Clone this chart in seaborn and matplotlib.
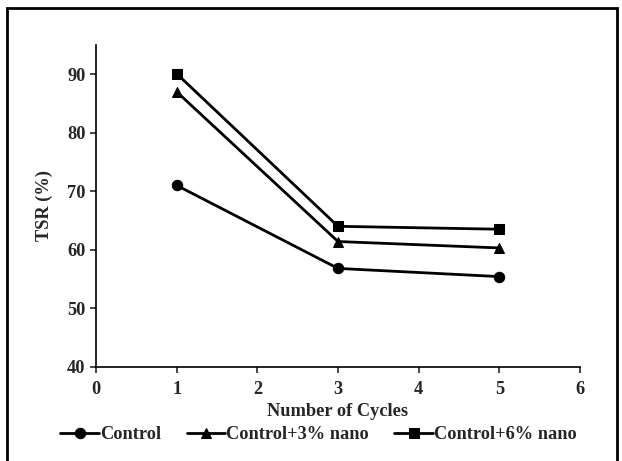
import matplotlib
matplotlib.use("Agg")
import matplotlib.pyplot as plt
import seaborn as sns
import pandas as pd
from matplotlib.patches import Rectangle

cycles = [1, 3, 5]
control = [71.0, 56.8, 55.4]
nano3 = [87.0, 61.4, 60.3]
nano6 = [90.1, 64.0, 63.5]
series_names = ["Control", "Control+3% nano", "Control+6% nano"]
x_ticks = [0, 1, 2, 3, 4, 5, 6]
y_ticks = [40, 50, 60, 70, 80, 90]

rows = []
for name, vals in zip(series_names, [control, nano3, nano6]):
    for c, v in zip(cycles, vals):
        rows.append({"Cycles": c, "TSR": v, "Series": name})
df = pd.DataFrame(rows)

sns.set_style("ticks")
plt.rcParams["font.family"] = ["Liberation Serif", "DejaVu Serif"]
plt.rcParams["font.weight"] = "bold"

fs = 13.2

fig = plt.figure(figsize=(6.22, 4.61), dpi=100)
ax = fig.add_axes([0.1543, 0.2046, 0.7782, 0.6978])

sns.lineplot(data=df, x="Cycles", y="TSR", style="Series", hue="Series",
             palette=["black"] * 3, markers={"Control": "o", "Control+3% nano": "^", "Control+6% nano": "s"},
             dashes=False, markersize=7.5, linewidth=2, markeredgecolor="black", ax=ax)

ax.set_xlim(0, 6)
ax.set_ylim(40, 95)
ax.set_xticks(x_ticks)
ax.set_yticks(y_ticks)
ax.tick_params(axis="both", labelsize=fs, width=1.2, length=4, direction="out")
ax.tick_params(axis="x", pad=6)
for lbl in ax.get_xticklabels() + ax.get_yticklabels():
    lbl.set_fontweight("bold")
ax.set_xlabel("Number of Cycles", fontsize=fs, fontweight="bold", labelpad=4)
ax.set_ylabel("TSR (%)", fontsize=fs, fontweight="bold", labelpad=10)
for side in ["top", "right"]:
    ax.spines[side].set_visible(False)
for side in ["left", "bottom"]:
    ax.spines[side].set_linewidth(1.2)
    ax.spines[side].set_color("black")

ax.legend_.remove()
handles, labels = ax.get_legend_handles_labels()
leg = fig.legend(handles, labels, loc="center", bbox_to_anchor=(0.512, 0.057), ncol=3,
                 frameon=False, handlelength=2.1, columnspacing=1.4, handletextpad=0.05,
                 prop={"weight": "bold", "size": fs})

fig.patches.append(Rectangle((7 / 622, -0.05), (617 - 7) / 622, 1 - 8 / 461 + 0.05,
                             transform=fig.transFigure, fill=False, edgecolor="black",
                             linewidth=2))

fig.savefig("out.png", dpi=100)
